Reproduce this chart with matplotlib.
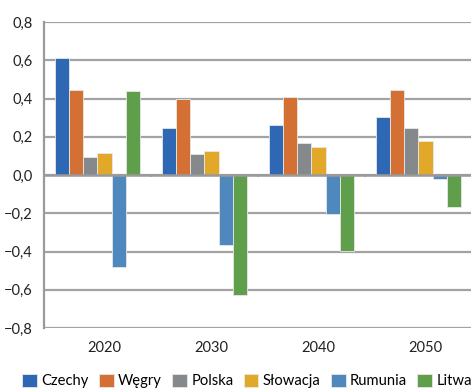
import numpy as np
import matplotlib.pyplot as plt
import matplotlib.transforms as mtransforms
from matplotlib.ticker import FuncFormatter

plt.rcParams['font.family'] = ['Lato', 'DejaVu Sans']

# dane: lata i kraje
years = ['2020', '2030', '2040', '2050']
countries = ['Czechy', 'Węgry', 'Polska', 'Słowacja', 'Rumunia', 'Litwa']
czechy = [0.613, 0.247, 0.261, 0.302]
wegry = [0.444, 0.396, 0.408, 0.443]
polska = [0.096, 0.108, 0.169, 0.244]
slowacja = [0.115, 0.125, 0.145, 0.176]
rumunia = [-0.483, -0.364, -0.206, -0.023]
litwa = [0.437, -0.629, -0.396, -0.166]
series = [czechy, wegry, polska, slowacja, rumunia, litwa]
colors = ['#2E67B4', '#D57035', '#86898B', '#E2A82A', '#4F88BC', '#5F9E4B']


def fmt(v, pos):
    v = round(v, 1) + 0.0
    return f'{v:.1f}'.replace('.', ',').replace('-', '\u2212')


fig = plt.figure(figsize=(4.71, 3.89), dpi=100)
ax = fig.add_axes([44 / 471, 1 - 328 / 389, 1 - 44 / 471 + 0.002, (328 - 22) / 389])

x = np.arange(len(years))
w = 0.132
for i, (vals, c) in enumerate(zip(series, colors)):
    ax.bar(x + (i - 2.5) * w, vals, width=w, color=c, edgecolor='#e8e8e8',
           linewidth=0.6, label=countries[i], zorder=3)

ax.set_xlim(-0.5, len(years) - 0.5)
ax.set_ylim(-0.8, 0.8)
ax.set_yticks(np.arange(-0.8, 0.81, 0.2))
ax.yaxis.set_major_formatter(FuncFormatter(fmt))
ax.grid(axis='y', color='#a3a3a3', linewidth=1.6, zorder=0)
ax.axhline(0, color='#9a9a9a', linewidth=1.8, zorder=4)
ax.vlines([0.5, 1.5, 2.5], -0.012, 0, color='#9a9a9a', linewidth=1.2, zorder=4)

for s in ['top', 'right', 'bottom']:
    ax.spines[s].set_visible(False)
ax.spines['left'].set_color('#9a9a9a')
ax.spines['left'].set_linewidth(1.6)

ax.set_xticks(x)
ax.set_xticklabels(years)
ax.tick_params(axis='x', length=0, pad=9, labelsize=10.5, labelcolor='#222222')
ax.tick_params(axis='y', length=0, pad=8, labelsize=10.5, labelcolor='#222222')
shift = mtransforms.ScaledTranslation(7 / 100, 0, fig.dpi_scale_trans)
for lab in ax.get_xticklabels():
    lab.set_transform(lab.get_transform() + shift)

fig.legend(loc='center left', bbox_to_anchor=(22 / 471, 8 / 389), ncol=6,
           frameon=False, fontsize=10.6, handlelength=1.0, handleheight=1.0,
           handletextpad=0.3, columnspacing=0.7, borderaxespad=0,
           borderpad=0)

fig.savefig('out.png', dpi=100)
